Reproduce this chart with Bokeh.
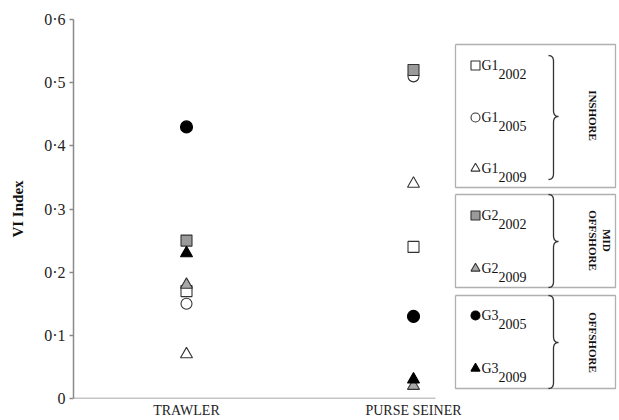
import numpy as np
from bokeh.plotting import figure
from bokeh.models import Range1d, FixedTicker, Label, Arrow
from bokeh.embed import file_html
from bokeh.resources import INLINE

# ---------------- data ----------------
categories = ["TRAWLER", "PURSE SEINER"]
cat_pos = [1, 2]
g1_2002 = [0.17, 0.24]
g1_2005 = [0.15, 0.51]
g1_2009 = [0.07, 0.34]
g2_2002 = [0.25, 0.52]
g2_2009 = [0.18, 0.02]
g3_2005 = [0.43, 0.13]
g3_2009 = [0.23, 0.03]
y_ticks = [0, 0.1, 0.2, 0.3, 0.4, 0.5, 0.6]
y_tick_labels = ["0", "0·1", "0·2", "0·3", "0·4", "0·5", "0·6"]

FONT = "Liberation Serif"
W, H = 619, 420
# frame edges in page pixels
FL, FR, FT, FB = 73, 619, 19, 398
XR0, XR1 = 1 - (186 - FL) / 227, 2 + (FR - 413) / 227
YR0, YR1 = 0.0, 0.6


def X(px):
    return XR0 + (px - FL) / (FR - FL) * (XR1 - XR0)


def Y(py):
    return YR0 + (FB - py) / (FB - FT) * (YR1 - YR0)


p = figure(width=W, height=H, output_backend="svg", toolbar_location=None,
           x_range=Range1d(XR0, XR1), y_range=Range1d(YR0, YR1),
           min_border_left=FL, min_border_right=0, min_border_top=FT,
           min_border_bottom=H - FB)
p.grid.visible = False
p.outline_line_color = None
p.background_fill_color = "white"

# y axis
ya = p.yaxis[0]
ya.ticker = FixedTicker(ticks=y_ticks)
ya.major_label_overrides = dict(zip(y_ticks, y_tick_labels))
ya.axis_line_color = "#8a8a8a"
ya.axis_line_width = 1.5
ya.major_tick_line_color = "#8a8a8a"
ya.major_tick_line_width = 1.5
ya.major_tick_out = 4
ya.major_tick_in = 0
ya.minor_tick_line_color = None
ya.major_label_text_font = FONT
ya.major_label_text_font_size = "16px"
ya.major_label_text_color = "#222222"
ya.major_label_standoff = 4
ya.axis_label = "VI Index"
ya.axis_label_text_font = FONT
ya.axis_label_text_font_size = "15px"
ya.axis_label_text_font_style = "bold"
ya.axis_label_text_color = "#111111"
ya.axis_label_standoff = 15

# x axis (categories)
xa = p.xaxis[0]
xa.ticker = FixedTicker(ticks=cat_pos)
xa.major_label_overrides = dict(zip(cat_pos, categories))
xa.axis_line_color = None
xa.major_tick_line_color = None
xa.major_tick_out = 0
xa.major_tick_in = 0
xa.minor_tick_line_color = None
xa.minor_tick_out = 0
xa.major_label_text_font = FONT
xa.major_label_text_font_size = "14px"
xa.major_label_text_color = "#222222"
xa.major_label_standoff = 4

# partial x axis line
p.add_layout(Arrow(end=None, x_start=XR0, y_start=0, x_end=X(435), y_end=0,
                   line_color="#8a8a8a", line_width=1.5))

# ---------------- series ----------------
OUT = "#333333"
series = [
    (g1_2002, "square", "white", 11),
    (g1_2005, "circle", "white", 11),
    (g1_2009, "triangle", "white", 12),
    (g2_2002, "square", "#9a9a9a", 11),
    (g2_2009, "triangle", "#a8a8a8", 12),
    (g3_2005, "circle", "#000000", 12),
    (g3_2009, "triangle", "#000000", 12),
]
for vals, mk, fc, sz in series:
    p.scatter(cat_pos, vals, marker=mk, size=sz, fill_color=fc,
              line_color=OUT if fc != "#000000" else "#000000", line_width=1.1)

# ---------------- legend panel ----------------
BOX = "#b0b0b0"
BR = "#333333"


def rect(x0, x1, y0, y1):
    xs = [X(x0), X(x1), X(x1), X(x0), X(x0)]
    ys = [Y(y0), Y(y0), Y(y1), Y(y1), Y(y0)]
    p.line(xs, ys, line_color=BOX, line_width=1.3)


def quad(a, c, b, n=10):
    t = np.linspace(0, 1, n)[:, None]
    a, c, b = np.array(a), np.array(c), np.array(b)
    return (1 - t) ** 2 * a + 2 * (1 - t) * t * c + t ** 2 * b


def brace(xl, xm, xt, yt, yb, ym, r=6):
    pts = np.vstack([
        quad((xl, yt), (xm, yt), (xm, yt + r)),
        quad((xm, ym - r), (xm, ym), (xt, ym)),
        quad((xt, ym), (xm, ym), (xm, ym + r)),
        quad((xm, yb - r), (xm, yb), (xl, yb)),
    ])
    p.line([X(v) for v in pts[:, 0]], [Y(v) for v in pts[:, 1]],
           line_color=BR, line_width=1.3)


rect(455, 615, 44, 187)
brace(548, 553, 558, 55, 179, 116)
rect(455, 615, 194, 287)
brace(548, 553, 558, 194, 287, 241)
rect(455, 615, 295, 388)
brace(548, 553, 558, 295, 388, 342)

legend_items = [
    (65, "square", "white", "G1", "2002"),
    (117, "circle", "white", "G1", "2005"),
    (168, "triangle", "white", "G1", "2009"),
    (215, "square", "#9a9a9a", "G2", "2002"),
    (268, "triangle", "#a8a8a8", "G2", "2009"),
    (315, "circle", "#000000", "G3", "2005"),
    (368, "triangle", "#000000", "G3", "2009"),
]
for yy, mk, fc, main, sub in legend_items:
    p.scatter([X(475)], [Y(yy)], marker=mk, size=9, fill_color=fc,
              line_color=OUT if fc != "#000000" else "#000000", line_width=1.1)
    p.add_layout(Label(x=X(481), y=Y(yy), text=main, text_font=FONT,
                       text_font_size="14px", text_color="#111111",
                       text_baseline="middle", text_align="left"))
    p.add_layout(Label(x=X(498), y=Y(yy + 8), text=sub, text_font=FONT,
                       text_font_size="14px", text_color="#111111",
                       text_baseline="middle", text_align="left"))

group_labels = [(592, 115, "INSHORE"), (606, 240, "MID"), (592, 240, "OFFSHORE"),
                (592, 342, "OFFSHORE")]
for gx, gy, txt in group_labels:
    p.add_layout(Label(x=X(gx), y=Y(gy), text=txt, text_font=FONT,
                       text_font_size="11px", text_font_style="bold",
                       text_color="#111111", angle=-np.pi / 2,
                       text_align="center", text_baseline="middle"))

open("out.html", "w").write(file_html(p, INLINE))
